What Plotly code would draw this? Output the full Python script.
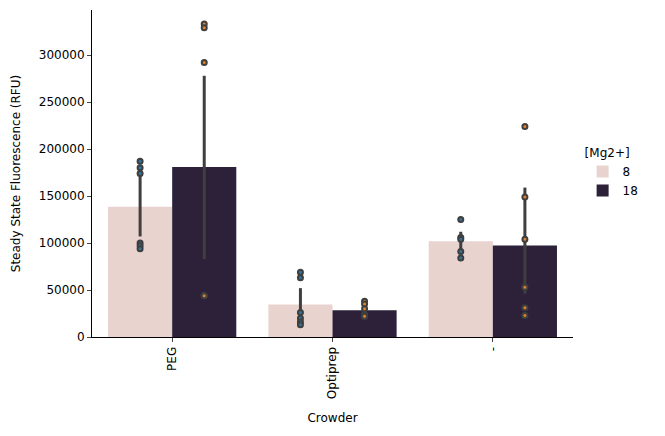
import plotly.graph_objects as go
import numpy as np

crowders = ["PEG", "Optiprep", "-"]
mg_levels = ["8", "18"]
bar_colors = {"8": "#e8d3cf", "18": "#2d2039"}
pt_colors = {"8": "#3274a1", "18": "#e1812c"}

points_8 = {
    "PEG": [187000, 180000, 174000, 100000, 97000, 94000],
    "Optiprep": [69000, 63000, 26000, 20000, 16000, 13000],
    "-": [125000, 106000, 104000, 91000, 84000],
}
points_18 = {
    "PEG": [333000, 329000, 292000, 44000, 44000, 44000],
    "Optiprep": [38000, 35000, 30000, 24000, 22000, 22000],
    "-": [224000, 149000, 104000, 53000, 31000, 23000],
}
ci_low = {"8": [107000, 16000, 88000], "18": [83000, 24000, 46000]}
ci_high = {"8": [175000, 52000, 112000], "18": [278000, 36000, 159000]}

fig = go.Figure()
for mg, pts in (("8", points_8), ("18", points_18)):
    means = [float(np.mean(pts[c])) for c in crowders]
    fig.add_trace(go.Bar(
        x=crowders, y=means, name=mg, offsetgroup=mg,
        marker=dict(color=bar_colors[mg], line_width=0),
        error_y=dict(type="data", symmetric=False,
                     array=[h - m for h, m in zip(ci_high[mg], means)],
                     arrayminus=[m - l for l, m in zip(ci_low[mg], means)],
                     color="#3f3f3f", thickness=3, width=0),
    ))
for mg, pts in (("8", points_8), ("18", points_18)):
    xs, ys = [], []
    for c in crowders:
        xs += [c] * len(pts[c]); ys += pts[c]
    fig.add_trace(go.Scatter(
        x=xs, y=ys, mode="markers", offsetgroup=mg, showlegend=False,
        marker=dict(size=5, color=pt_colors[mg], line=dict(color="#3f3f3f", width=2)),
    ))

fig.update_layout(
    width=665, height=436, plot_bgcolor="white", paper_bgcolor="white",
    margin=dict(l=84, r=100, t=2, b=107),
    barmode="group", bargap=0.2, bargroupgap=0, scattermode="group", scattergap=0.2,
    font=dict(family="DejaVu Sans", size=12, color="black"),
    legend=dict(title=dict(text="[Mg2+]", font=dict(size=12)), x=1.02, y=0.5, yanchor="middle",
                bgcolor="rgba(0,0,0,0)", font=dict(size=12)),
    xaxis=dict(title=dict(text="Crowder", font=dict(size=12)), tickangle=-90, showline=True,
               linecolor="black", ticks="outside", ticklen=4, tickfont=dict(size=12)),
    yaxis=dict(title=dict(text="Steady State Fluorescence (RFU)", font=dict(size=12)),
               range=[0, 348000], tickvals=list(range(0, 300001, 50000)), tickformat="d",
               showline=True, linecolor="black", ticks="outside", ticklen=4,
               showgrid=False, zeroline=False, tickfont=dict(size=12)),
)
fig.write_html("out.html")
